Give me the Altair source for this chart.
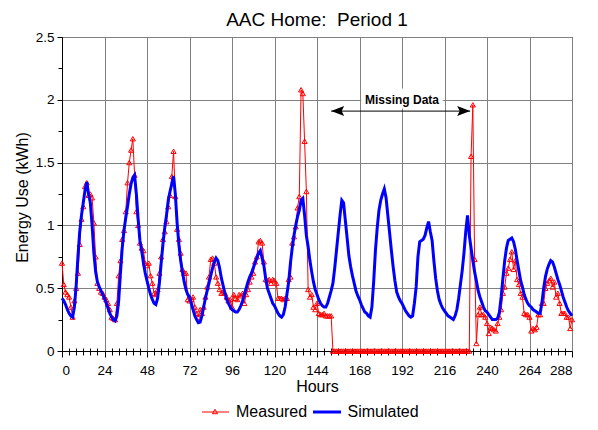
import altair as alt
import pandas as pd

# ---------------- data (hourly) ----------------
sim_d0 = [0.42,0.40,0.37,0.33,0.30,0.28,0.27,0.35,0.52,0.75,0.95,1.08,1.18,1.28,1.345,1.25,1.18,1.00,0.78,0.63,0.55,0.51,0.48,0.45]
sim_d1 = [0.42,0.38,0.34,0.30,0.27,0.25,0.24,0.28,0.40,0.62,0.82,0.96,1.06,1.15,1.25,1.33,1.38,1.40,1.25,1.05,0.88,0.80,0.70,0.62]
sim_d2 = [0.56,0.50,0.45,0.41,0.38,0.37,0.42,0.54,0.70,0.85,0.98,1.08,1.20,1.27,1.33,1.39,1.25,1.02,0.85,0.72,0.63,0.55,0.49,0.45]
sim_d3 = [0.43,0.38,0.33,0.28,0.25,0.225,0.23,0.28,0.35,0.42,0.48,0.54,0.60,0.66,0.71,0.74,0.72,0.66,0.58,0.52,0.46,0.41,0.38,0.35]
sim_d4 = [0.33,0.32,0.31,0.31,0.33,0.36,0.40,0.45,0.50,0.55,0.59,0.62,0.66,0.70,0.74,0.78,0.80,0.74,0.68,0.58,0.50,0.46,0.42,0.38]
sim_d5 = [0.36,0.33,0.30,0.28,0.27,0.29,0.35,0.45,0.55,0.70,0.82,0.92,1.00,1.07,1.12,1.20,1.215,1.08,0.92,0.83,0.72,0.63,0.55,0.49]
sim_d6 = [0.45,0.41,0.38,0.36,0.35,0.35,0.38,0.43,0.48,0.54,0.66,0.80,0.94,1.08,1.20,1.18,1.04,0.90,0.76,0.67,0.60,0.54,0.48,0.44]
sim_d7 = [0.41,0.37,0.34,0.31,0.30,0.28,0.27,0.35,0.55,0.80,0.98,1.12,1.20,1.25,1.29,1.22,1.08,0.94,0.80,0.67,0.56,0.47,0.43,0.40]
sim_d8 = [0.38,0.35,0.32,0.30,0.28,0.27,0.28,0.38,0.51,0.75,0.87,0.88,0.89,0.92,0.98,1.03,0.95,0.88,0.72,0.58,0.48,0.41,0.37,0.34]
sim_d9 = [0.32,0.30,0.28,0.27,0.26,0.25,0.28,0.33,0.42,0.53,0.64,0.78,0.95,1.08,0.92,0.82,0.72,0.63,0.56,0.48,0.43,0.39,0.35,0.32]
sim_d10 = [0.31,0.29,0.27,0.25,0.25,0.25,0.26,0.31,0.43,0.58,0.72,0.82,0.88,0.89,0.90,0.87,0.81,0.72,0.64,0.56,0.51,0.45,0.41,0.38]
sim_d11 = [0.36,0.35,0.33,0.32,0.31,0.30,0.30,0.38,0.50,0.59,0.65,0.69,0.72,0.71,0.67,0.62,0.57,0.53,0.48,0.43,0.39,0.35,0.32,0.30]
sim_end = [0.28]

meas_d0 = [0.70,0.53,0.47,0.45,0.43,0.35,0.27,0.40,0.50,0.62,0.85,1.05,1.15,1.31,1.34,1.24,1.25,1.22,1.02,0.75,0.54,0.50,0.47,0.46]
meas_d1 = [0.43,0.41,0.38,0.33,0.27,0.26,0.25,0.38,0.60,0.72,0.89,0.96,1.11,1.34,1.50,1.60,1.69,1.40,1.11,1.00,0.86,0.82,0.80,0.70]
meas_d2 = [0.68,0.70,0.60,0.54,0.46,0.45,0.49,0.62,0.75,0.89,0.95,1.03,1.15,1.24,1.39,1.59,1.23,0.97,0.89,0.78,0.65,0.62,0.62,0.41]
meas_d3 = [0.40,0.41,0.43,0.35,0.30,0.27,0.33,0.30,0.35,0.43,0.51,0.59,0.73,0.74,0.70,0.59,0.54,0.49,0.46,0.47,0.46,0.43,0.40,0.41]
meas_d4 = [0.35,0.45,0.42,0.41,0.45,0.44,0.46,0.38,0.45,0.49,0.55,0.59,0.62,0.71,0.75,0.87,0.88,0.86,0.71,0.57,0.56,0.57,0.54,0.57]
meas_d5 = [0.56,0.54,0.42,0.42,0.42,0.41,0.42,0.42,0.57,0.59,0.86,0.91,0.99,1.14,1.23,2.08,2.05,1.67,1.27,0.49,0.43,0.45,0.35,0.33]
meas_d6 = [0.38,0.30,0.29,0.29,0.30,0.28,0.28,0.28,0.28,0,0,0,0,0,0,0,0,0,0,0,0,0,0,0]
meas_d7 = [0,0,0,0,0,0,0,0,0,0,0,0,0,0,0,0,0,0,0,0,0,0,0,0]
meas_d8 = [0,0,0,0,0,0,0,0,0,0,0,0,0,0,0,0,0,0,0,0,0,0,0,0]
meas_d9 = [0,0,0,0,0,0,0,0,0,0,0,0,0,0,0,1.55,1.96,0.73,0.06,0.29,0.35,0.29,0.29,0.27]
meas_d10 = [0.22,0.14,0.19,0.18,0.17,0.16,0.22,0.27,0.33,0.46,0.51,0.62,0.66,0.73,0.79,0.65,0.72,0.57,0.53,0.46,0.43,0.30,0.29,0.29]
meas_d11 = [0.27,0.16,0.18,0.17,0.19,0.29,0.29,0.38,0.38,0.50,0.54,0.56,0.58,0.51,0.55,0.43,0.46,0.38,0.30,0.30,0.30,0.27,0.27,0.18]
meas_end = [0.25]

simulated = (sim_d0 + sim_d1 + sim_d2 + sim_d3 + sim_d4 + sim_d5 + sim_d6 +
             sim_d7 + sim_d8 + sim_d9 + sim_d10 + sim_d11 + sim_end)
measured = (meas_d0 + meas_d1 + meas_d2 + meas_d3 + meas_d4 + meas_d5 + meas_d6 +
            meas_d7 + meas_d8 + meas_d9 + meas_d10 + meas_d11 + meas_end)
hours = list(range(len(simulated)))

x_ticks = [0, 24, 48, 72, 96, 120, 144, 168, 192, 216, 240, 264, 288]
x_minor_ticks = [h for h in range(4, 288, 4) if h % 24 != 0]
y_ticks = [0, 0.5, 1, 1.5, 2, 2.5]
y_minor_ticks = [0.25, 0.75, 1.25, 1.75, 2.25]

title_text = "AAC Home:\u00a0 Period 1"
x_title = "Hours"
y_title = "Energy Use (kWh)"
legend_labels = ["Measured", "Simulated"]

annot_label = ["Missing Data"]
annot_text_h = [192]
annot_text_v = [2.0]
annot_box_h = [169]
annot_box_h2 = [215]
annot_box_v = [1.93]
annot_box_v2 = [2.09]
arrow_start_h = [152]
arrow_end_h = [230.5]
arrow_v = [1.91]

# ---------------- chart ----------------
W, H = 510, 314
FONT = "Liberation Sans"
RED = "#FF0000"
BLUE = "#0000FF"

df = pd.DataFrame({"Hours": hours, "Simulated": simulated, "Measured": measured})

xscale = alt.Scale(domain=[0, 288], nice=False, zero=False)
yscale = alt.Scale(domain=[0, 2.5], nice=False)

x_main = alt.X("Hours:Q", scale=xscale,
               axis=alt.Axis(values=x_ticks, format="d", title=x_title, grid=True,
                             tickSize=6, labelPadding=6, titleFontSize=16,
                             titleFontWeight="normal", titleY=35, titleBaseline="middle",
                             orient="bottom"))
y_main = alt.Y("Measured:Q", scale=yscale,
               axis=alt.Axis(values=y_ticks, format="~g", title=y_title, grid=True,
                             tickSize=5, labelPadding=3, titleFontSize=16,
                             titleFontWeight="normal", titleAngle=270,
                             titleX=-40, titleY=H / 2 + 3, titleBaseline="middle",
                             titleAlign="center", orient="left"))

x_minor = alt.X("Hours:Q", scale=xscale,
                axis=alt.Axis(values=x_minor_ticks, labels=False, grid=False, domain=False,
                              tickSize=7, offset=-3, title=None, orient="bottom"))
y_minor = alt.Y("Measured:Q", scale=yscale,
                axis=alt.Axis(values=y_minor_ticks, labels=False, grid=False, domain=False,
                              tickSize=4, title=None, orient="left"))

base = alt.Chart(df)

meas_line = base.mark_line(color=RED, strokeWidth=1).encode(x=x_main, y=y_main)
meas_pts = base.mark_point(shape="triangle-up", filled=False, color=RED, size=26,
                           strokeWidth=1, opacity=1).encode(x=x_minor, y=y_minor)
sim_line = base.mark_line(color=BLUE, strokeWidth=3).encode(
    x=alt.X("Hours:Q", scale=xscale, axis=None),
    y=alt.Y("Simulated:Q", scale=yscale, axis=None))

# annotation
adf = pd.DataFrame({"label": annot_label, "th": annot_text_h, "tv": annot_text_v,
                    "bh": annot_box_h, "bh2": annot_box_h2, "bv": annot_box_v, "bv2": annot_box_v2,
                    "ah": arrow_start_h, "ah2": arrow_end_h, "av": arrow_v})
abase = alt.Chart(adf)
box = abase.mark_rect(fill="white").encode(
    x=alt.X("bh:Q", scale=xscale, axis=None), x2="bh2:Q",
    y=alt.Y("bv:Q", scale=yscale, axis=None), y2="bv2:Q")
ann_text = abase.mark_text(font=FONT, fontSize=12, fontWeight="bold", color="black",
                           align="center", baseline="middle").encode(
    x=alt.X("th:Q", scale=xscale, axis=None),
    y=alt.Y("tv:Q", scale=yscale, axis=None), text="label:N")
arrow_line = abase.mark_rule(color="black", strokeWidth=1).encode(
    x=alt.X("ah:Q", scale=xscale, axis=None), x2="ah2:Q",
    y=alt.Y("av:Q", scale=yscale, axis=None))
head_left = abase.mark_point(shape="M0,0L2.6,-1L2.1,0L2.6,1Z", filled=True, color="black",
                             size=100, opacity=1, strokeWidth=0).encode(
    x=alt.X("ah:Q", scale=xscale, axis=None),
    y=alt.Y("av:Q", scale=yscale, axis=None))
head_right = abase.mark_point(shape="M0,0L-2.6,-1L-2.1,0L-2.6,1Z", filled=True, color="black",
                              size=100, opacity=1, strokeWidth=0).encode(
    x=alt.X("ah2:Q", scale=xscale, axis=None),
    y=alt.Y("av:Q", scale=yscale, axis=None))

# title
tdf = pd.DataFrame({"t": [title_text]})
title = alt.Chart(tdf).mark_text(font=FONT, fontSize=19, color="black", align="center",
                                 baseline="middle").encode(
    text="t:N", x=alt.value(W / 2), y=alt.value(-17))

# legend (drawn manually)
ldf1 = pd.DataFrame({"l": [legend_labels[0]]})
ldf2 = pd.DataFrame({"l": [legend_labels[1]]})
leg_red = alt.Chart(ldf1).mark_rule(color=RED, strokeWidth=1).encode(
    x=alt.value(140), x2=alt.value(167), y=alt.value(375))
leg_tri = alt.Chart(ldf1).mark_point(shape="triangle-up", filled=False, color=RED, size=26,
                                     strokeWidth=1, opacity=1).encode(
    x=alt.value(153), y=alt.value(374.5))
leg_t1 = alt.Chart(ldf1).mark_text(font=FONT, fontSize=16, color="black", align="left",
                                   baseline="middle").encode(
    text="l:N", x=alt.value(174), y=alt.value(375))
leg_blue = alt.Chart(ldf2).mark_rule(color=BLUE, strokeWidth=3).encode(
    x=alt.value(251), x2=alt.value(279), y=alt.value(375))
leg_t2 = alt.Chart(ldf2).mark_text(font=FONT, fontSize=16, color="black", align="left",
                                   baseline="middle").encode(
    text="l:N", x=alt.value(285.5), y=alt.value(375))

chart = alt.layer(
    meas_line, meas_pts, sim_line, box, arrow_line, head_left, head_right, ann_text,
    title, leg_red, leg_tri, leg_t1, leg_blue, leg_t2
).resolve_axis(x="independent", y="independent").properties(
    width=W, height=H,
    autosize=alt.AutoSizeParams(type="none"),
    padding={"left": 54, "top": 29, "right": 14, "bottom": 70},
).configure_view(
    stroke="black", strokeWidth=1
).configure_axis(
    labelFont=FONT, titleFont=FONT, labelFontSize=13.5, labelColor="black",
    titleColor="black", gridColor="#808080", gridWidth=1, gridOpacity=1,
    domainColor="black", domainWidth=1, tickColor="black", tickWidth=1
)

chart.save("out.html", embed_options={"renderer": "svg", "actions": False})
